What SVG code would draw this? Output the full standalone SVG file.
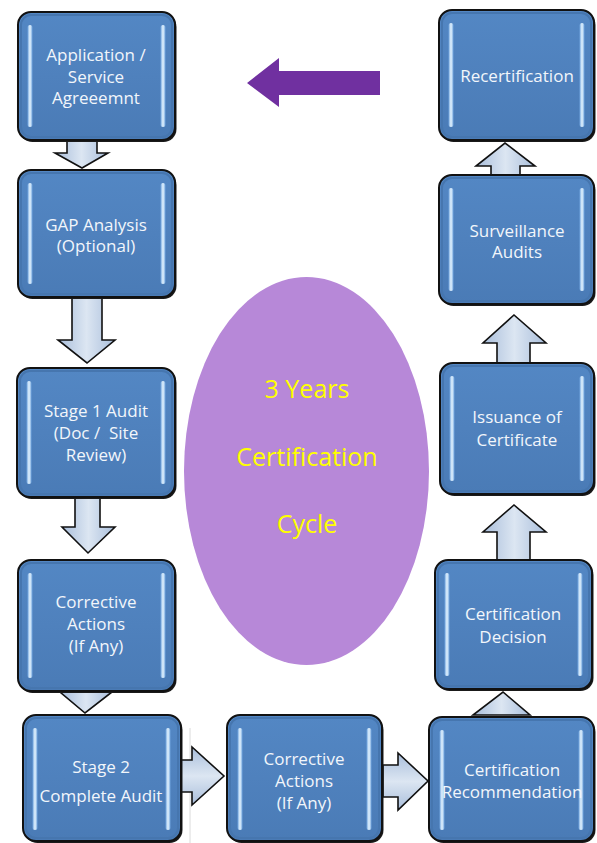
<svg xmlns="http://www.w3.org/2000/svg" width="597" height="843" viewBox="0 0 597 843">
  <defs>
    <linearGradient id="boxFill" x1="0" y1="0" x2="0" y2="1">
      <stop offset="0" stop-color="#5387C4"/>
      <stop offset="0.5" stop-color="#4F81BD"/>
      <stop offset="1" stop-color="#4A7BB6"/>
    </linearGradient>
    <linearGradient id="strip" x1="0" y1="0" x2="1" y2="0">
      <stop offset="0" stop-color="#6FA3DD"/>
      <stop offset="0.5" stop-color="#E6F5FF"/>
      <stop offset="1" stop-color="#6FA3DD"/>
    </linearGradient>
    <linearGradient id="arrowV" x1="0" y1="0" x2="1" y2="0">
      <stop offset="0" stop-color="#A9BEDB"/>
      <stop offset="0.5" stop-color="#DCE6F2"/>
      <stop offset="1" stop-color="#A9BEDB"/>
    </linearGradient>
    <linearGradient id="arrowH" x1="0" y1="0" x2="0" y2="1">
      <stop offset="0" stop-color="#A9BEDB"/>
      <stop offset="0.5" stop-color="#DCE6F2"/>
      <stop offset="1" stop-color="#A9BEDB"/>
    </linearGradient>
  </defs>
  <style>
    .shadow { fill: #1a1a1a; }
    .box { fill: url(#boxFill); stroke: #111; stroke-width: 2; }
    .rim { fill: none; stroke: #4676AF; stroke-width: 2; }
    .strip { fill: url(#strip); }
    .label { font-family: "Open Sans", "Liberation Sans", sans-serif; font-size: 17px; fill: #F2F6FB; text-anchor: middle; }
    .av { fill: url(#arrowV); stroke: #111; stroke-width: 1.6; stroke-linejoin: miter; }
    .ah { fill: url(#arrowH); stroke: #111; stroke-width: 1.6; stroke-linejoin: miter; }
    .cycle { font-family: "Open Sans", "Liberation Sans", sans-serif; font-size: 25px; fill: #FFFF00; text-anchor: middle; }
  </style>

  <rect width="597" height="843" fill="#FFFFFF"/>

  <!-- central cycle ellipse -->
  <g id="cycle">
    <ellipse cx="306.5" cy="471" rx="122.5" ry="194" fill="#B788D8"/>
    <text class="cycle" x="307" y="398">3 Years</text>
    <text class="cycle" x="307" y="466">Certification</text>
    <text class="cycle" x="307" y="533">Cycle</text>
  </g>

  <!-- faint divider line -->
  <line x1="190" y1="728" x2="190" y2="843" stroke="#DADADA" stroke-width="1"/>

  <!-- connectors -->
  <g id="connectors">
    <!-- left column, downward -->
    <polygon class="av" points="67,138 97,138 97,153 108,153 82,168 55,153 67,153"/>
    <polygon class="av" points="72,296 102,296 102,340 115,340 87,363 58,340 72,340"/>
    <polygon class="av" points="75,497 100,497 100,527 115,527 88,553 62,527 75,527"/>
    <polygon class="av" points="60,692 112,692 85,713"/>
    <!-- bottom row, rightward -->
    <polygon class="ah" points="181,760 192,760 192,747 224,776 192,805 192,792 181,792"/>
    <polygon class="ah" points="383,765 398,765 398,753 428,781 398,810 398,797 383,797"/>
    <!-- right column, upward -->
    <polygon class="av" points="473,715 530,715 503,692"/>
    <polygon class="av" points="497,561 530,561 530,532 546,532 514,505 483,532 497,532"/>
    <polygon class="av" points="497,364 530,364 530,343 546,343 514,315 483,343 497,343"/>
    <polygon class="av" points="491,176 520,176 520,166 535,166 505,143 476,166 491,166"/>
    <!-- return arrow -->
    <polygon points="247,83 279,58 279,71 380,71 380,95 279,95 279,107" fill="#7030A0"/>
  </g>

  <!-- process steps -->
  <g id="application">
    <rect class="shadow" x="19.5" y="14" width="157" height="128" rx="13"/>
    <rect class="box" x="18" y="12" width="157" height="128" rx="13"/>
    <rect class="rim" x="21" y="15" width="151" height="122" rx="10"/>
    <rect class="strip" x="27.5" y="25" width="5" height="102" rx="2.5"/>
    <rect class="strip" x="160.5" y="25" width="5" height="102" rx="2.5"/>
    <text class="label" x="96" y="61">Application /</text>
    <text class="label" x="96" y="83">Service</text>
    <text class="label" x="96" y="104">Agreeemnt</text>
  </g>

  <g id="gap-analysis">
    <rect class="shadow" x="19.5" y="172" width="157" height="127" rx="13"/>
    <rect class="box" x="18" y="170" width="157" height="127" rx="13"/>
    <rect class="rim" x="21" y="173" width="151" height="121" rx="10"/>
    <rect class="strip" x="27.5" y="183" width="5" height="101" rx="2.5"/>
    <rect class="strip" x="160.5" y="183" width="5" height="101" rx="2.5"/>
    <text class="label" x="96" y="231">GAP Analysis</text>
    <text class="label" x="96" y="252">(Optional)</text>
  </g>

  <g id="stage1">
    <rect class="shadow" x="18.5" y="370" width="158" height="129" rx="13"/>
    <rect class="box" x="17" y="368" width="158" height="129" rx="13"/>
    <rect class="rim" x="20" y="371" width="152" height="123" rx="10"/>
    <rect class="strip" x="26.5" y="381" width="5" height="103" rx="2.5"/>
    <rect class="strip" x="160.5" y="381" width="5" height="103" rx="2.5"/>
    <text class="label" x="96" y="417">Stage 1 Audit</text>
    <text class="label" x="96" y="439" xml:space="preserve">(Doc /  Site</text>
    <text class="label" x="96" y="461">Review)</text>
  </g>

  <g id="corrective1">
    <rect class="shadow" x="19.5" y="562" width="157" height="131" rx="13"/>
    <rect class="box" x="18" y="560" width="157" height="131" rx="13"/>
    <rect class="rim" x="21" y="563" width="151" height="125" rx="10"/>
    <rect class="strip" x="27.5" y="573" width="5" height="105" rx="2.5"/>
    <rect class="strip" x="160.5" y="573" width="5" height="105" rx="2.5"/>
    <text class="label" x="96" y="608">Corrective</text>
    <text class="label" x="96" y="630">Actions</text>
    <text class="label" x="96" y="652">(If Any)</text>
  </g>

  <g id="stage2">
    <rect class="shadow" x="24.5" y="717" width="158" height="126" rx="13"/>
    <rect class="box" x="23" y="715" width="158" height="126" rx="13"/>
    <rect class="rim" x="26" y="718" width="152" height="120" rx="10"/>
    <rect class="strip" x="32.5" y="728" width="5" height="102" rx="2.5"/>
    <rect class="strip" x="165.5" y="728" width="5" height="102" rx="2.5"/>
    <text class="label" x="101" y="773">Stage 2</text>
    <text class="label" x="101" y="802">Complete Audit</text>
  </g>

  <g id="corrective2">
    <rect class="shadow" x="228.5" y="717" width="155" height="126" rx="13"/>
    <rect class="box" x="227" y="715" width="155" height="126" rx="13"/>
    <rect class="rim" x="230" y="718" width="149" height="120" rx="10"/>
    <rect class="strip" x="237.5" y="728" width="5" height="102" rx="2.5"/>
    <rect class="strip" x="366.5" y="728" width="5" height="102" rx="2.5"/>
    <text class="label" x="304" y="765">Corrective</text>
    <text class="label" x="304" y="787">Actions</text>
    <text class="label" x="304" y="809">(If Any)</text>
  </g>

  <g id="recommendation">
    <rect class="shadow" x="430.5" y="719" width="165" height="124" rx="13"/>
    <rect class="box" x="429" y="717" width="165" height="124" rx="13"/>
    <rect class="rim" x="432" y="720" width="159" height="118" rx="10"/>
    <rect class="strip" x="439.5" y="730" width="5" height="100" rx="2.5"/>
    <rect class="strip" x="578.5" y="730" width="5" height="100" rx="2.5"/>
    <text class="label" x="512" y="776">Certification</text>
    <text class="label" x="512" y="798">Recommendation</text>
  </g>

  <g id="decision">
    <rect class="shadow" x="436.5" y="562" width="157" height="129" rx="13"/>
    <rect class="box" x="435" y="560" width="157" height="129" rx="13"/>
    <rect class="rim" x="438" y="563" width="151" height="123" rx="10"/>
    <rect class="strip" x="444.5" y="573" width="5" height="103" rx="2.5"/>
    <rect class="strip" x="577.5" y="573" width="5" height="103" rx="2.5"/>
    <text class="label" x="513" y="620">Certification</text>
    <text class="label" x="513" y="643">Decision</text>
  </g>

  <g id="issuance">
    <rect class="shadow" x="441.5" y="365" width="154" height="131" rx="13"/>
    <rect class="box" x="440" y="363" width="154" height="131" rx="13"/>
    <rect class="rim" x="443" y="366" width="148" height="125" rx="10"/>
    <rect class="strip" x="449.5" y="376" width="5" height="105" rx="2.5"/>
    <rect class="strip" x="579.5" y="376" width="5" height="105" rx="2.5"/>
    <text class="label" x="517" y="423">Issuance of</text>
    <text class="label" x="517" y="446">Certificate</text>
  </g>

  <g id="surveillance">
    <rect class="shadow" x="440.5" y="177" width="155" height="129" rx="13"/>
    <rect class="box" x="439" y="175" width="155" height="129" rx="13"/>
    <rect class="rim" x="442" y="178" width="149" height="123" rx="10"/>
    <rect class="strip" x="448.5" y="188" width="5" height="103" rx="2.5"/>
    <rect class="strip" x="579.5" y="188" width="5" height="103" rx="2.5"/>
    <text class="label" x="517" y="237">Surveillance</text>
    <text class="label" x="517" y="258">Audits</text>
  </g>

  <g id="recertification">
    <rect class="shadow" x="440.5" y="12" width="155" height="130" rx="13"/>
    <rect class="box" x="439" y="10" width="155" height="130" rx="13"/>
    <rect class="rim" x="442" y="13" width="149" height="124" rx="10"/>
    <rect class="strip" x="448.5" y="23" width="5" height="104" rx="2.5"/>
    <rect class="strip" x="579.5" y="23" width="5" height="104" rx="2.5"/>
    <text class="label" x="517" y="82">Recertification</text>
  </g>
</svg>
